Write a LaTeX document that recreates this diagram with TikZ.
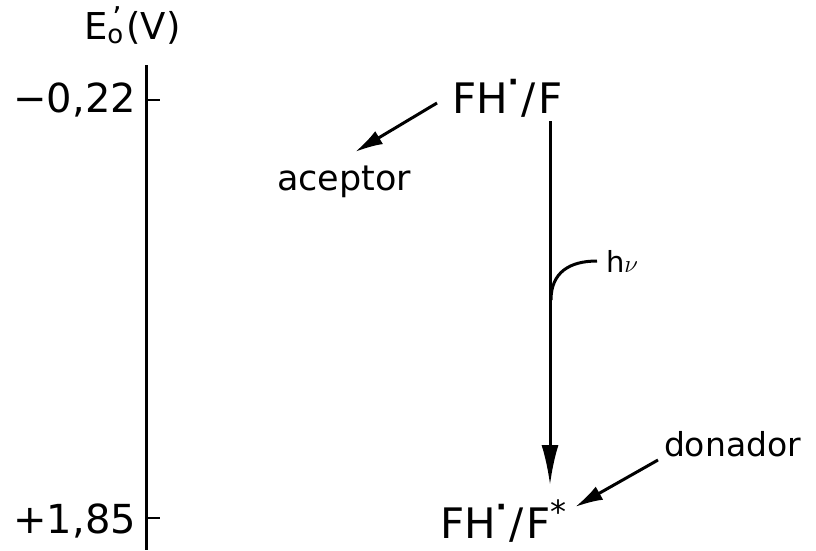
\documentclass[tikz,border=0pt]{standalone}
\usepackage{fontspec}
\setmainfont{DejaVu Sans}
\usetikzlibrary{arrows.meta}
\newcommand{\raddot}{\raisebox{0.5em}{\fontsize{30}{30}\selectfont\textbf{·}}}
\begin{document}
\begin{tikzpicture}[x=1pt,y=-1pt,
  lbl/.style={inner sep=0pt,outer sep=0pt,text=black},
  bigtip/.style={-{Latex[length=40pt,width=17pt]}},
  smalltip/.style={-{Latex[length=28pt,width=15pt]}},
  ln/.style={line width=3pt}]
\useasboundingbox (0,0) rectangle (816,550);
% axis
\coordinate (axtop) at (146,65);
\coordinate (axbot) at (146,550);
\draw[ln] (axtop) -- (axbot);
\coordinate (t1a) at (146,100); \coordinate (t1b) at (160,100);
\coordinate (t2a) at (146,518); \coordinate (t2b) at (160,518);
\draw[line width=2.5pt] (t1a) -- (t1b);
\draw[line width=2.5pt] (t2a) -- (t2b);
\node[lbl,anchor=base west,font=\fontsize{37}{40}\selectfont] (eo) at (84,39)
  {E\makebox[0pt][l]{\kern5pt\raisebox{0.28em}{\fontsize{30}{30}\selectfont'}}\raisebox{-0.12em}{\fontsize{26}{26}\selectfont o}\kern3pt(V)};
\node[lbl,anchor=base east,font=\fontsize{40}{44}\selectfont] (m022) at (136,112) {−0,22};
\node[lbl,anchor=base east,font=\fontsize{40}{44}\selectfont] (p185) at (136,533) {+1,85};
% species
\node[lbl,anchor=base west,font=\fontsize{42}{46}\selectfont] (top) at (452,113)
  {FH\raddot\kern2pt/\kern3ptF};
\node[lbl,anchor=base west,font=\fontsize{42}{46}\selectfont] (bot) at (440,538)
  {FH\raddot\kern2pt/\kern3ptF\raisebox{0.35em}{\fontsize{32}{32}\selectfont *}};
\node[lbl,anchor=base west,font=\fontsize{35}{40}\selectfont] (acc) at (277,190) {aceptor};
\node[lbl,anchor=base west,font=\fontsize{33}{36}\selectfont] (don) at (664,456) {donador};
\node[lbl,anchor=base west,font=\fontsize{29}{32}\selectfont] (hv) at (606,272) {h$\nu$};
% arrows
\coordinate (vs) at (550,121);
\coordinate (ve) at (550,485);
\draw[ln,bigtip] (vs) -- (ve);
\coordinate (as) at (437,103);
\coordinate (ae) at (355,152);
\draw[ln,smalltip] (as) -- (ae);
\coordinate (ds) at (658,460);
\coordinate (de) at (575,507);
\draw[ln,smalltip] (ds) -- (de);
\coordinate (hs) at (551,300);
\coordinate (he) at (597,261);
\draw[ln] (hs) .. controls (551,272) and (570,261) .. (he);
\end{tikzpicture}
\end{document}
